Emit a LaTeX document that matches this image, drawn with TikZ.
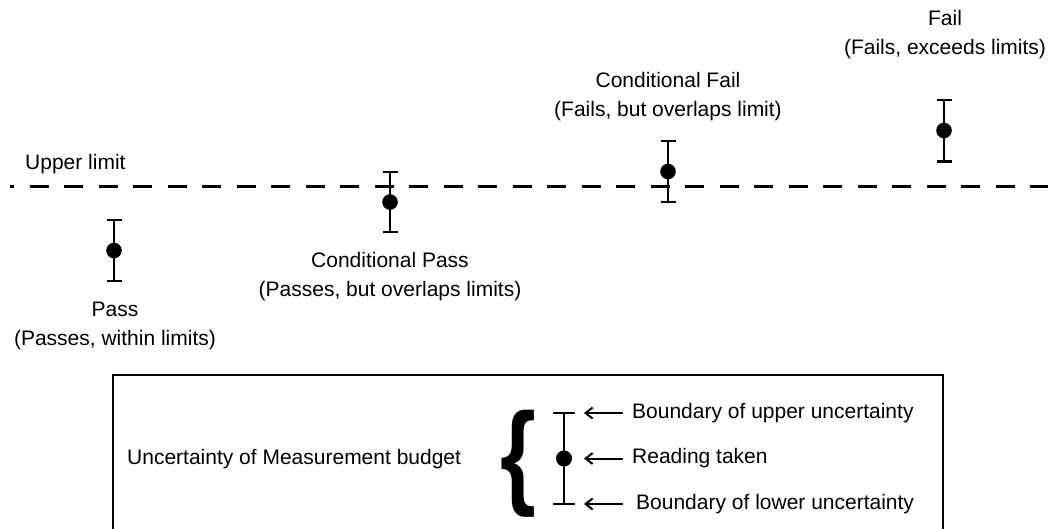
\documentclass[tikz,border=0pt]{standalone}
\usepackage{fontspec}
\setmainfont{Liberation Sans}
\usetikzlibrary{arrows.meta,positioning}

\begin{document}
\begin{tikzpicture}[x=1pt,y=-1pt,>={Straight Barb[length=7pt,width=11pt]},
  bar/.style={line width=2.6pt},
  limit/.style={line width=2.6pt,dash pattern=on 19pt off 15.5pt,dash phase=15pt},
  lbl/.style={align=center,inner sep=0pt,font=\fontsize{21}{29}\selectfont},
  leg/.style={inner ysep=0pt,inner xsep=9pt,font=\fontsize{21}{29}\selectfont},
  legarr/.style={->,line width=2pt}]
\useasboundingbox (0,0) rectangle (1052,528);

\coordinate (limL) at (10,186.5);
\coordinate (limR) at (1048,186.5);

\coordinate (passhi) at (114,220);
\coordinate (passpt) at (114,250.5);
\coordinate (passlo) at (114,281);
\coordinate (cpasshi) at (390,172);
\coordinate (cpasspt) at (390,202);
\coordinate (cpasslo) at (390,232);
\coordinate (cfailhi) at (668,141);
\coordinate (cfailpt) at (668,171.5);
\coordinate (cfaillo) at (668,202);
\coordinate (failhi) at (944,100);
\coordinate (failpt) at (944,130.5);
\coordinate (faillo) at (944,161.5);

\coordinate (leghi) at (564,413);
\coordinate (legpt) at (564,458.5);
\coordinate (leglo) at (564,504);

% upper limit
\draw[limit] (limL) -- (limR);
\node[lbl,anchor=west] (limlbl) at (25,164) {Upper limit};

% readings
\draw[bar] (passhi) -- (passlo);
\draw[bar] ([xshift=-7.5pt]passhi) -- ([xshift=7.5pt]passhi);
\draw[bar] ([xshift=-7.5pt]passlo) -- ([xshift=7.5pt]passlo);
\draw[bar] (cpasshi) -- (cpasslo);
\draw[bar] ([xshift=-7.5pt]cpasshi) -- ([xshift=7.5pt]cpasshi);
\draw[bar] ([xshift=-7.5pt]cpasslo) -- ([xshift=7.5pt]cpasslo);
\draw[bar] (cfailhi) -- (cfaillo);
\draw[bar] ([xshift=-7.5pt]cfailhi) -- ([xshift=7.5pt]cfailhi);
\draw[bar] ([xshift=-7.5pt]cfaillo) -- ([xshift=7.5pt]cfaillo);
\draw[bar] (failhi) -- (faillo);
\draw[bar] ([xshift=-7.5pt]failhi) -- ([xshift=7.5pt]failhi);
\draw[bar] ([xshift=-7.5pt]faillo) -- ([xshift=7.5pt]faillo);

\fill (passpt) circle (7.8pt);
\fill (cpasspt) circle (7.8pt);
\fill (cfailpt) circle (7.8pt);
\fill (failpt) circle (7.8pt);

\node[lbl] (passlbl) at (115,326) {Pass\\(Passes, within limits)};
\node[lbl] (cpasslbl) at (390,277) {Conditional Pass\\(Passes, but overlaps limits)};
\node[lbl] (cfaillbl) at (668,97) {Conditional Fail\\(Fails, but overlaps limit)};
\node[lbl] (faillbl) at (945,35) {Fail\\(Fails, exceeds limits)};

% legend
\draw[line width=2pt] (113,375) rectangle (943,540);
\node[lbl,anchor=west] (budget) at (127,459) {Uncertainty of Measurement budget};
\node[inner sep=0pt,xscale=0.8,font=\bfseries\fontsize{115}{115}\selectfont] (brace) at (518,464) {\{};

\draw[bar] (leghi) -- (leglo);
\draw[bar] ([xshift=-11pt]leghi) -- ([xshift=11pt]leghi);
\draw[bar] ([xshift=-11pt]leglo) -- ([xshift=11pt]leglo);
\fill (legpt) circle (8pt);

\coordinate (uptip) at ([xshift=20pt]leghi);
\coordinate (readtip) at ([xshift=20pt]legpt);
\coordinate (lowtip) at ([xshift=20pt]leglo);
\node[leg,anchor=west,right=59pt of leghi] (uplbl) {Boundary of upper uncertainty};
\node[leg,anchor=west,right=59pt of legpt] (readlbl) {Reading taken};
\node[leg,anchor=west,right=63pt of leglo] (lowlbl) {Boundary of lower uncertainty};

\path[legarr] (uplbl) edge (uptip);
\path[legarr] (readlbl) edge (readtip);
\path[legarr] ([xshift=-4pt]lowlbl.west) edge (lowtip);
\end{tikzpicture}
\end{document}
